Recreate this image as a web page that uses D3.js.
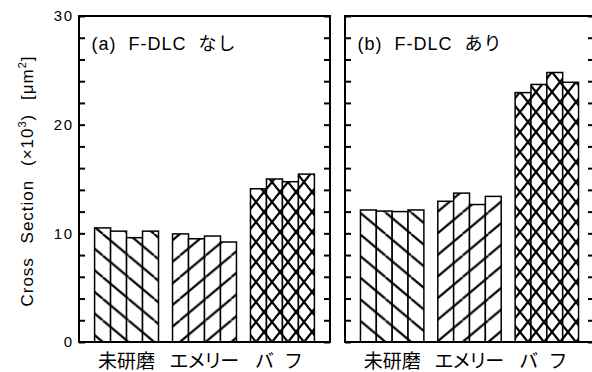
<!DOCTYPE html>
<html>
<head>
<meta charset="utf-8">
<script src="https://cdn.jsdelivr.net/npm/d3@7"></script>
<style>
  html, body { margin: 0; padding: 0; background: #fff; }
  svg { display: block; }
  text { font-family: "Liberation Sans", Arial, "Noto Sans CJK JP", sans-serif; fill: #000; }
  .jp { font-family: "Noto Sans CJK JP", sans-serif; font-feature-settings: "palt"; }
</style>
</head>
<body>
<svg id="chart" width="592" height="372"></svg>
<script>
// Panel titles, surface finishes and measured cross sections (×10^3 µm²), four samples per finish
const panelTitles = ["(a)  F-DLC  なし", "(b)  F-DLC  あり"];
const categories = ["未研磨", "エメリー", "バフ"];
const noDlcValues = [
  [10.5, 10.2, 9.6, 10.2],
  [9.95, 9.5, 9.75, 9.2],
  [14.1, 15.0, 14.75, 15.45]
];
const withDlcValues = [
  [12.15, 12.05, 12.0, 12.15],
  [12.95, 13.7, 12.65, 13.4],
  [22.95, 23.7, 24.8, 23.9]
];
const yTickLabels = [0, 10, 20, 30];
const yTickMarks = [0, 2, 4, 6, 8, 10, 12, 14, 16, 18, 20, 22, 24, 26, 28, 30];

const svg = d3.select("#chart");
const plotTop = 16, plotBottom = 342;
const panelX = [[79, 330], [345, 594]];
const panelValues = [noDlcValues, withDlcValues];

const y = d3.scaleLinear().domain([0, 30]).range([plotBottom, plotTop]);

// hatch fills: "\" for 未研磨, "/" for エメリー, cross for バフ
const defs = svg.append("defs");
function hatch(id, w, h, dirs) {
  const p = defs.append("pattern")
    .attr("id", id)
    .attr("patternUnits", "userSpaceOnUse")
    .attr("width", w).attr("height", h)
    .attr("y", plotBottom);
  p.append("rect").attr("width", w).attr("height", h).attr("fill", "#fff");
  dirs.forEach(d => {
    [-w, 0, w].forEach(dx => {
      p.append("line")
        .attr("x1", dx).attr("y1", d === "back" ? 0 : h)
        .attr("x2", dx + w).attr("y2", d === "back" ? h : 0)
        .attr("stroke", "#000").attr("stroke-width", 2.2);
    });
  });
}
hatch("hatch-back", 25.7, 21.6, ["back"]);
hatch("hatch-fwd", 25.7, 21.6, ["fwd"]);
hatch("hatch-cross", 16, 20, ["back", "fwd"]);
const fills = ["url(#hatch-back)", "url(#hatch-fwd)", "url(#hatch-cross)"];

panelX.forEach(([x0, x1], pi) => {
  const g = svg.append("g");
  const x = d3.scaleBand().domain(categories).range([x0, x1])
    .paddingInner(0.18).paddingOuter(0.2);
  const xi = d3.scaleBand().domain([0, 1, 2, 3]).range([0, x.bandwidth()]);

  // bars
  categories.forEach((c, ci) => {
    g.selectAll(null)
      .data(panelValues[pi][ci])
      .join("rect")
      .attr("x", (d, i) => x(c) + xi(i))
      .attr("y", d => y(d))
      .attr("width", xi.bandwidth())
      .attr("height", d => y(0) - y(d))
      .attr("fill", fills[ci])
      .attr("stroke", "#000")
      .attr("stroke-width", 1.5);
  });

  // inward ticks on both sides
  const left = d3.axisRight(y).tickValues(yTickMarks).tickSize(6).tickFormat("");
  const right = d3.axisLeft(y).tickValues(yTickMarks).tickSize(6).tickFormat("");
  [[left, x0], [right, x1]].forEach(([ax, xp]) => {
    const a = g.append("g").attr("transform", `translate(${xp},0)`).call(ax);
    a.select(".domain").remove();
    a.selectAll("line").attr("stroke", "#000").attr("stroke-width", 2);
  });

  // frame
  g.append("rect")
    .attr("x", x0).attr("y", plotTop)
    .attr("width", x1 - x0).attr("height", plotBottom - plotTop)
    .attr("fill", "none").attr("stroke", "#000").attr("stroke-width", 2);

  // panel title
  g.append("text")
    .attr("x", x0 + 12.5).attr("y", 50)
    .attr("xml:space", "preserve")
    .style("white-space", "pre")
    .attr("font-size", 18)
    .attr("letter-spacing", 1)
    .text(panelTitles[pi]);

  // category labels
  g.selectAll(null)
    .data(categories)
    .join("text")
    .attr("class", "jp")
    .attr("x", d => x(d) + x.bandwidth() / 2)
    .attr("y", 368)
    .attr("text-anchor", "middle")
    .attr("font-size", 19)
    .attr("letter-spacing", d => d === "バフ" ? 12 : 0)
    .attr("dx", d => d === "バフ" ? 2 : 0)
    .text(d => d);
});

// y tick labels on the left panel
svg.append("g")
  .selectAll("text")
  .data(yTickLabels)
  .join("text")
  .attr("x", 72)
  .attr("y", d => y(d))
  .attr("dy", "0.36em")
  .attr("text-anchor", "end")
  .attr("font-size", 15)
  .attr("letter-spacing", 1.5)
  .attr("dx", 1.5)
  .text(d => d);

// y axis title
const yt = svg.append("text")
  .attr("transform", "translate(33,181) rotate(-90)")
  .attr("text-anchor", "middle")
  .attr("font-size", 17)
  .attr("letter-spacing", 1)
  .attr("word-spacing", 8);
yt.append("tspan").text("Cross Section (×10");
yt.append("tspan").attr("dy", -7).attr("font-size", 11).text("3");
yt.append("tspan").attr("dy", 7).text(") [μm");
yt.append("tspan").attr("dy", -7).attr("font-size", 11).text("2");
yt.append("tspan").attr("dy", 7).text("]");
</script>
</body>
</html>
